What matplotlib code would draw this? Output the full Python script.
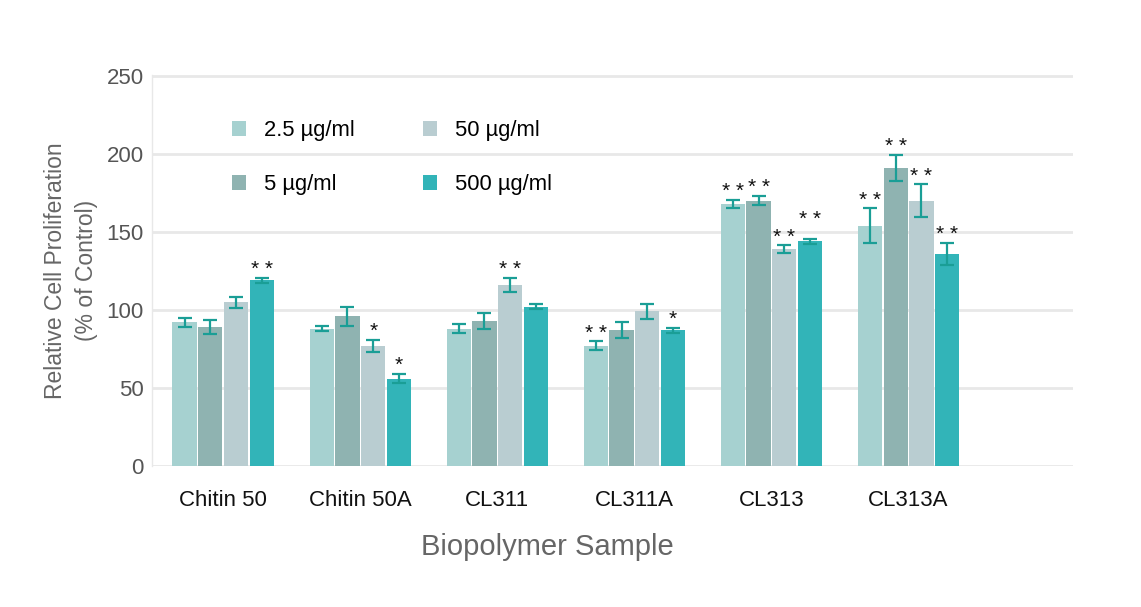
import numpy as np
import matplotlib
matplotlib.use("Agg")
import matplotlib.pyplot as plt

plt.rcParams['font.family'] = ['Liberation Sans', 'DejaVu Sans']

samples = ['Chitin 50', 'Chitin 50A', 'CL311', 'CL311A', 'CL313', 'CL313A']
doses = ['2.5 µg/ml', '5 µg/ml', '50 µg/ml', '500 µg/ml']
colors = ['#a6d1d0', '#8fb3b1', '#b9cdd1', '#32b4b8']

# mean values per dose, one entry per sample
dose25 = [92, 88, 88, 77, 168, 154]
dose5 = [89, 96, 93, 87, 170, 191]
dose50 = [105, 77, 116, 99, 139, 170]
dose500 = [119, 56, 102, 87, 144, 136]

err25 = [3, 1.5, 3, 3, 2.5, 11]
err5 = [4.5, 6, 5, 5, 3, 8.5]
err50 = [3.5, 4, 4.5, 4.5, 2.5, 10.5]
err500 = [1.5, 3, 1.5, 1.5, 1.5, 7]

sig25 = ['', '', '', '* *', '* *', '* *']
sig5 = ['', '', '', '', '* *', '* *']
sig50 = ['', '*', '* *', '', '* *', '* *']
sig500 = ['* *', '*', '', '*', '* *', '* *']

means = [dose25, dose5, dose50, dose500]
errs = [err25, err5, err50, err500]
sigs = [sig25, sig5, sig50, sig500]

fig = plt.figure(figsize=(11.41, 6.07), dpi=100)
ax = fig.add_axes([0.1332, 0.2323, 0.8072, 0.6441])

x = np.arange(len(samples))
width = 0.188
for i in range(4):
    pos = x + (i - 1.5) * width
    ax.bar(pos, means[i], width * 0.94, color=colors[i], label=doses[i], zorder=2)
    ax.errorbar(pos, means[i], yerr=errs[i], fmt='none', ecolor='#1a9e96',
                elinewidth=1.6, capsize=5, capthick=1.6, zorder=3)
    for j in range(len(samples)):
        if sigs[i][j]:
            # the last CL313 stars sit a bit higher so they clear the neighbour
            lift = 8 if (i == 3 and j == 4) else 0
            ax.annotate(sigs[i][j], (pos[j], means[i][j] + errs[i][j]),
                        xytext=(0, -1 + lift), textcoords='offset points',
                        ha='center', va='bottom', fontsize=15, color='#111111')

ax.set_xlim(-0.52, 6.2)
ax.set_ylim(0, 250.5)
ax.set_yticks([0, 50, 100, 150, 200, 250])
ax.set_xticks(x)
ax.set_xticklabels(samples, fontsize=16, color='#111111')
ax.tick_params(axis='y', labelsize=16, labelcolor='#555555', length=0, pad=6)
ax.tick_params(axis='x', length=0, pad=17)
ax.yaxis.grid(True, color='#e8e8e8', linewidth=2, zorder=0)
ax.set_axisbelow(True)
for s in ['top', 'right', 'bottom']:
    ax.spines[s].set_visible(False)
ax.spines['left'].set_color('#e8e8e8')
ax.spines['left'].set_linewidth(1)

ax.set_ylabel('Relative Cell Proliferation\n(% of Control)', fontsize=16.5,
              color='#666666', labelpad=6, linespacing=1.45)
ax.set_xlabel('Biopolymer Sample', fontsize=21, color='#666666', labelpad=16)
ax.xaxis.label.set_x(0.429)

ax.legend(ncol=2, frameon=False, fontsize=15.8, loc='upper left',
          bbox_to_anchor=(0.087, 0.885), borderpad=0, borderaxespad=0,
          handlelength=0.65, handleheight=0.65,
          labelspacing=1.5, columnspacing=3.1, handletextpad=0.8)

fig.savefig('out.png', dpi=100)
